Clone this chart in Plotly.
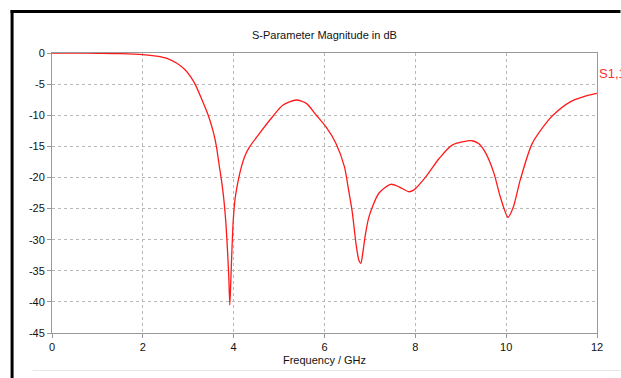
import plotly.graph_objects as go

freq_ghz = [0.0, 0.5, 1.0, 1.5, 2.0, 2.3, 2.53, 2.75, 2.93, 3.05, 3.15, 3.29, 3.44, 3.55,
            3.62, 3.68, 3.73, 3.78, 3.83, 3.87, 3.895, 3.915, 3.935, 3.96, 3.99, 4.03, 4.10,
            4.17, 4.25, 4.35, 4.57, 4.86, 5.08, 5.38, 5.6, 5.82, 6.03, 6.25, 6.44, 6.53, 6.61,
            6.70, 6.76, 6.80, 6.84, 6.90, 6.98, 7.2, 7.46, 7.64, 7.86, 7.97, 8.23, 8.52, 8.81, 9.25,
            9.4, 9.55, 9.73, 9.87, 10.04, 10.16, 10.31, 10.57, 10.93, 11.03, 11.4, 11.76, 12.0]
s11_db = [0.0, -0.02, -0.05, -0.1, -0.25, -0.5, -0.85, -1.65, -2.7, -3.8, -5.0, -7.3, -10.0, -12.65,
          -15.0, -18.0, -20.4, -23.3, -27.5, -32.5, -36.5, -40.5, -37.0, -32.0, -27.0, -23.5, -20.5,
          -18.3, -16.5, -15.1, -12.9, -10.2, -8.4, -7.55, -8.1, -10.0, -11.85, -14.5, -18.3, -22.0, -25.5,
          -31.0, -33.4, -33.8, -32.3, -29.2, -26.3, -22.5, -21.1, -21.5, -22.3, -22.0, -19.9, -17.0, -14.8, -14.1,
          -14.6, -16.1, -19.3, -23.1, -26.4, -24.7, -20.4, -14.6, -10.8, -10.0, -7.9, -6.9, -6.5]
x_ticks = [0, 2, 4, 6, 8, 10, 12]
y_ticks = [0, -5, -10, -15, -20, -25, -30, -35, -40, -45]
series_name = "S1,1"
title_text = "S-Parameter Magnitude in dB"
x_title = "Frequency / GHz"

W, H = 621, 378
L, R, T, B = 51.5, 23.5, 53, 45
pw, ph = W - L - R, H - T - B

def px(x):
    return (x - L) / pw

def py(y):
    return (H - B - y) / ph

fig = go.Figure()
fig.add_trace(go.Scatter(x=freq_ghz, y=s11_db, mode="lines", name=series_name,
                         line=dict(color="#ff1a1a", width=1.3, shape="spline", smoothing=0.7),
                         showlegend=False))

axis_common = dict(showline=True, linecolor="#999999", linewidth=1, mirror=True,
                   showgrid=True, gridcolor="#b8b8b8", griddash="dot", gridwidth=1,
                   ticks="outside", ticklen=4, tickcolor="#999999", zeroline=False,
                   tickfont=dict(family="Liberation Sans", size=11, color="#111"))

fig.update_xaxes(range=[0, 12], tickvals=x_ticks, ticktext=[str(v) for v in x_ticks],
                 title=dict(text=x_title, font=dict(family="Liberation Sans", size=11, color="#111"), standoff=4),
                 **axis_common)
fig.update_yaxes(range=[-45, 0], tickvals=y_ticks, ticktext=[str(v) for v in y_ticks],
                 **axis_common)

fig.add_annotation(text=title_text, xref="paper", yref="paper", x=px(325), y=py(35),
                   xanchor="center", yanchor="middle", showarrow=False,
                   font=dict(family="Liberation Sans", size=11, color="#111"))
fig.add_annotation(text=series_name, xref="paper", yref="paper", x=px(598), y=py(73),
                   xanchor="left", yanchor="middle", showarrow=False,
                   font=dict(family="Liberation Sans", size=13, color="#ff3030"))

# frame decorations
fig.add_shape(type="line", xref="paper", yref="paper", x0=px(11.5), x1=px(11.5), y0=py(10), y1=py(378),
              line=dict(color="#000", width=3))
fig.add_shape(type="line", xref="paper", yref="paper", x0=px(10), x1=px(621), y0=py(11.5), y1=py(11.5),
              line=dict(color="#000", width=3))
fig.add_shape(type="line", xref="paper", yref="paper", x0=px(32), x1=px(621), y0=py(370.5), y1=py(370.5),
              line=dict(color="#e6e6e6", width=1))

fig.update_layout(width=W, height=H, margin=dict(l=L, r=R, t=T, b=B, pad=0),
                  paper_bgcolor="white", plot_bgcolor="white",
                  font=dict(family="Liberation Sans", size=11, color="#111"))

fig.write_html("out.html")
